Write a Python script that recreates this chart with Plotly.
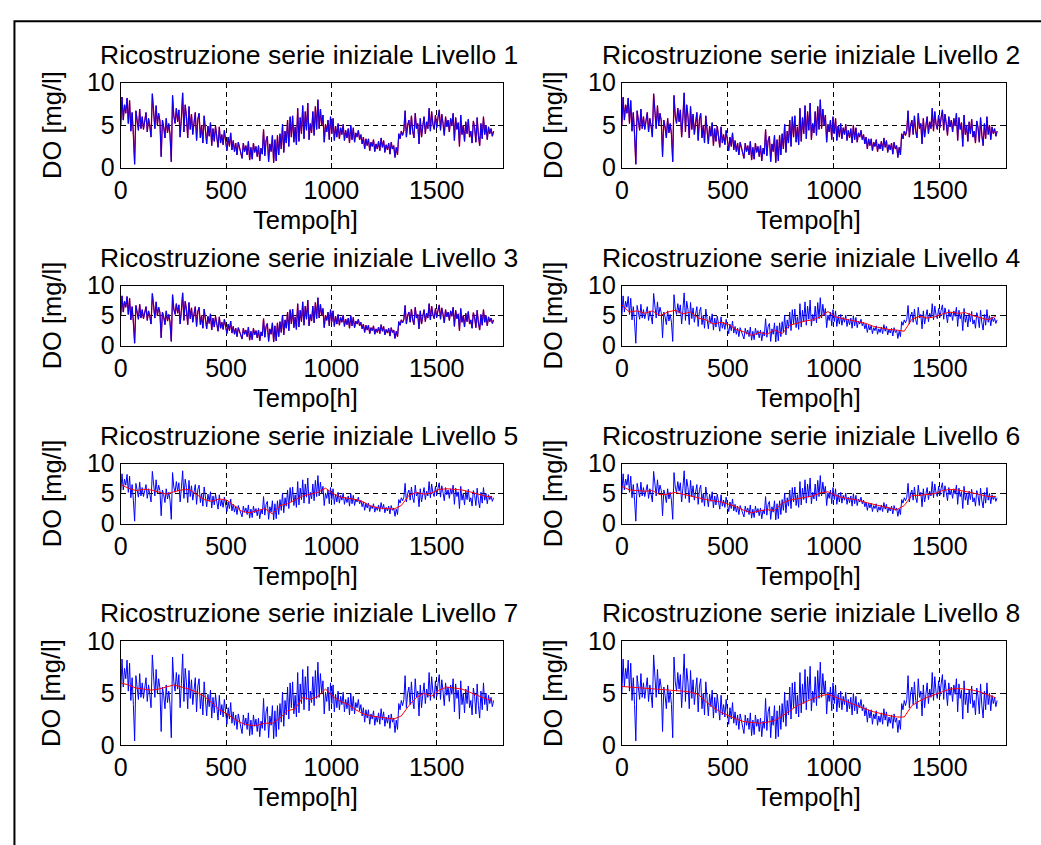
import plotly.graph_objects as go

# ---------------------------------------------------------------------------
# Data
# ---------------------------------------------------------------------------
W, H = 1041, 845
STEP_DO = 6        # hours between samples of the measured series
STEP_APPROX = 36   # hours between samples of the smooth approximations

# Dissolved oxygen measured series [mg/l], four samples per day
do_measured = [
    5.0, 8.3, 5.6, 7.4,  6.4, 8.2, 5.2, 7.9,  4.3, 6.5, 3.9, 0.4,
    6.7, 5.1, 4.4, 6.9,  4.6, 6.0, 4.5, 5.5,  6.5, 4.2, 5.8, 4.9,
    3.6, 8.7, 6.2, 4.6,  7.3, 5.0, 6.4, 5.5,  1.3, 5.6, 4.8, 3.5,
    5.8, 4.1, 5.2, 3.9,  0.7, 8.5, 6.1, 5.2,  7.0, 5.4, 6.8, 3.6,
    5.9, 8.8, 4.2, 7.4,  6.0, 3.5, 7.2, 4.5,  6.3, 3.9, 5.3, 6.5,
    3.2, 5.7, 6.4, 3.5,  5.0, 2.9, 6.1, 4.4,  2.8, 4.9, 3.7, 5.3,
    2.6, 4.6, 3.1, 4.9,  3.4, 2.4, 4.8, 2.9,  3.9, 2.7, 4.4, 3.0,
    2.0, 3.6, 2.5, 4.1,  2.1, 3.2, 1.9, 2.9,  1.5, 3.0, 2.4, 1.8,
    1.1, 2.9, 1.9, 2.6,  1.5, 3.1, 0.9, 2.4,  1.0, 2.9, 1.8, 2.5,
    1.3, 2.6, 0.8, 2.3,  1.6, 4.5, 1.4, 3.2,  3.7, 0.7, 2.8, 1.9,
    3.8, 0.6, 3.3, 0.8,  3.8, 1.5, 4.0, 2.2,  5.1, 1.8, 4.3, 2.9,
    5.6, 2.5, 6.0, 3.6,  6.1, 3.0, 4.8, 2.7,  7.0, 3.1, 5.9, 4.0,
    7.3, 3.4, 6.6, 4.4,  7.6, 3.3, 5.2, 4.1,  6.6, 3.8, 7.2, 4.5,
    8.0, 4.6, 6.9, 5.0,  6.2, 3.0, 5.1, 4.2,  5.6, 3.3, 6.0, 4.0,
    5.8, 3.2, 4.9, 3.6,  5.2, 3.4, 4.7, 3.9,  5.1, 3.2, 4.4, 3.5,
    4.6, 2.9, 5.0, 3.3,  4.7, 3.0, 4.1, 3.6,  4.4, 3.3, 3.9, 2.8,
    3.6, 2.2, 3.4, 2.6,  3.4, 2.0, 3.0, 2.5,  3.3, 1.9, 2.8, 2.2,
    3.1, 2.0, 3.5, 2.4,  3.2, 1.8, 2.7, 2.1,  2.9, 1.6, 3.0, 2.2,
    2.6, 1.2, 2.4, 1.5,  4.0, 3.4, 4.3, 3.8,  4.4, 6.7, 3.6, 5.0,
    5.6, 3.9, 6.1, 4.3,  3.5, 6.4, 4.6, 5.2,  2.8, 5.8, 3.6, 4.9,
    6.0, 4.0, 5.4, 4.6,  7.0, 4.3, 6.6, 5.1,  4.5, 6.2, 4.7, 5.9,
    6.8, 4.4, 6.3, 5.2,  3.8, 6.0, 4.8, 5.6,  4.2, 5.8, 4.9, 6.4,
    3.2, 5.9, 4.5, 5.3,  2.5, 6.2, 3.9, 5.0,  3.1, 5.4, 4.0, 5.7,
    3.6, 4.3, 2.9, 5.5,  4.7, 3.0, 5.9, 3.8,  2.6, 5.2, 3.4, 6.0,
    3.9, 5.0, 3.3, 4.8,  4.0, 4.6, 3.7, 4.3,
]

# Wavelet approximations (levels 4..8), sampled every STEP_APPROX hours
approx_l4 = [
    6.8, 5.6, 5.8, 5.4, 5.8, 5.0, 5.6, 5.9, 5.3, 5.6,
    4.6, 4.3, 3.6, 3.9, 3.5, 2.7, 2.3, 1.7, 2.2, 1.9,
    2.6, 2.0, 3.4, 3.8, 4.1, 4.3, 4.8, 5.7, 4.8, 4.5,
    4.2, 4.0, 3.7, 3.2, 2.9, 2.7, 2.6, 2.4, 4.4, 4.9,
    4.6, 4.8, 5.3, 5.6, 5.4, 5.5, 5.0, 4.7, 4.3, 4.9,
]
approx_l5 = [
    6.5, 5.9, 5.5, 5.7, 5.6, 5.2, 4.9, 5.3, 5.6, 5.7,
    4.9, 4.0, 3.7, 4.1, 3.9, 2.9, 2.0, 1.8, 2.1, 2.5,
    1.6, 3.0, 3.3, 4.0, 4.6, 4.9, 5.2, 5.9, 5.0, 4.4,
    4.2, 4.0, 3.6, 2.9, 2.6, 2.5, 2.4, 3.0, 4.7, 5.2,
    4.9, 5.1, 5.7, 5.8, 5.7, 5.6, 5.3, 4.9, 4.6, 4.4,
]
approx_l6 = [
    6.2, 5.6, 5.5, 5.4, 5.5, 4.8, 4.9, 5.2, 4.9, 4.6,
    4.2, 4.0, 3.8, 3.6, 3.2, 2.8, 2.2, 1.8, 2.1, 2.3,
    2.2, 3.4, 3.9, 4.1, 4.3, 4.6, 5.1, 5.3, 4.7, 4.3,
    4.1, 3.9, 3.5, 3.2, 2.9, 2.6, 2.3, 3.0, 4.7, 4.7,
    4.8, 5.0, 5.5, 5.7, 5.6, 5.4, 5.1, 4.8, 4.5, 4.5,
]
approx_l7 = [
    6.0, 5.8, 5.5, 5.4, 5.3, 5.4, 5.6, 5.8, 5.6, 5.4,
    5.1, 4.7, 4.1, 3.4, 3.0, 2.5, 2.1, 1.9, 1.9, 2.1,
    2.1, 2.6, 3.3, 3.5, 4.6, 4.4, 4.7, 5.4, 4.7, 4.2,
    3.9, 3.4, 3.0, 2.8, 2.7, 2.6, 2.5, 2.8, 3.8, 4.6,
    5.0, 4.7, 5.3, 5.6, 5.5, 5.4, 5.1, 4.8, 4.5, 4.3,
]
approx_l8 = [
    5.65, 5.6, 5.55, 5.5, 5.4, 5.35, 5.3, 5.25, 5.2, 5.1,
    4.9, 4.2, 3.6, 3.15, 2.8, 2.5, 2.25, 2.15, 2.1, 2.2,
    2.35, 2.8, 3.3, 3.8, 4.15, 4.45, 4.75, 4.9, 4.6, 4.3,
    4.0, 3.75, 3.45, 3.2, 3.0, 2.85, 2.7, 2.7, 3.8, 4.25,
    4.6, 4.9, 5.15, 5.4, 5.45, 5.4, 5.3, 5.1, 4.85, 4.55,
]

# At the finest levels the approximation coincides with the measured series
approx_by_level = {
    1: (do_measured, STEP_DO),
    2: (do_measured, STEP_DO),
    3: (do_measured, STEP_DO),
    4: (approx_l4, STEP_APPROX),
    5: (approx_l5, STEP_APPROX),
    6: (approx_l6, STEP_APPROX),
    7: (approx_l7, STEP_APPROX),
    8: (approx_l8, STEP_APPROX),
}

x_ticks = [0, 500, 1000, 1500]
y_ticks = [0, 5, 10]
title_fmt = "Ricostruzione serie iniziale Livello {}"

# ---------------------------------------------------------------------------
# Layout geometry (pixels)
# ---------------------------------------------------------------------------
col_px = [(114.5, 499.0), (619.0, 1006.0)]
row_px = [(71.0, 159.0), (281.0, 343.0), (465.0, 527.0), (649.0, 756.0)]

FONT = "Liberation Sans, Arial, Helvetica, sans-serif"
FS_TICK = 25
FS_LABEL = 25.5
FS_TITLE = 26.5


def px_x(p):
    return p / W


def px_y(p):
    return 1 - p / H


fig = go.Figure()
annotations = []
layout_axes = {}
hours = [i * STEP_DO for i in range(len(do_measured))]

for level in range(1, 9):
    r, c = divmod(level - 1, 2)
    x0, x1 = col_px[c]
    y0, y1 = row_px[r]
    sfx = "" if level == 1 else str(level)

    vals, step = approx_by_level[level]
    hours_a = [i * step for i in range(len(vals))]

    measured = go.Scatter(x=hours, y=do_measured, mode="lines",
                          line=dict(color="#0000ff", width=1),
                          xaxis="x" + sfx, yaxis="y" + sfx, hoverinfo="skip")
    approx = go.Scatter(x=hours_a, y=vals, mode="lines",
                        line=dict(color="#ff0000", width=1 if level > 3 else 1.3),
                        xaxis="x" + sfx, yaxis="y" + sfx, hoverinfo="skip")
    if level <= 3:
        fig.add_trace(approx)
        fig.add_trace(measured)
    else:
        fig.add_trace(measured)
        fig.add_trace(approx)

    common = dict(
        showline=True, linecolor="black", linewidth=1, mirror="ticks",
        ticks="inside", ticklen=5, tickcolor="black", tickwidth=1,
        showgrid=True, gridcolor="black", gridwidth=1, griddash="5px,4px",
        zeroline=False, tickfont=dict(family=FONT, size=FS_TICK, color="black"),
    )
    layout_axes["xaxis" + sfx] = dict(
        common, domain=[px_x(x0), px_x(x1)], range=[0, 1813],
        tickvals=x_ticks, anchor="y" + sfx,
    )
    layout_axes["yaxis" + sfx] = dict(
        common, domain=[px_y(y1), px_y(y0)], range=[0, 10],
        tickvals=y_ticks, anchor="x" + sfx,
    )

    xc = (x0 + x1) / 2
    annotations.append(dict(
        text=title_fmt.format(level), xref="paper", yref="paper",
        x=px_x(xc - 3), y=px_y(y0 - 29), xanchor="center", yanchor="middle",
        showarrow=False, font=dict(family=FONT, size=FS_TITLE, color="black")))
    annotations.append(dict(
        text="DO [mg/l]", xref="paper", yref="paper", textangle=-90,
        x=px_x(x0 - 69.5), y=px_y((y0 + y1) / 2), xanchor="center",
        yanchor="middle", showarrow=False,
        font=dict(family=FONT, size=FS_LABEL, color="black")))
    annotations.append(dict(
        text="Tempo[h]", xref="paper", yref="paper",
        x=px_x(xc - 6), y=px_y(y1 + 54), xanchor="center", yanchor="middle",
        showarrow=False, font=dict(family=FONT, size=FS_LABEL, color="black")))

fig.update_layout(
    width=W, height=H, margin=dict(l=0, r=0, t=0, b=0),
    paper_bgcolor="white", plot_bgcolor="white", showlegend=False,
    annotations=annotations,
    shapes=[dict(type="rect", xref="paper", yref="paper",
                 x0=px_x(7.5), x1=1.05, y0=-0.05, y1=px_y(7.5),
                 line=dict(color="black", width=2))],
    **layout_axes,
)

# The page body keeps no default margin so the figure sits at the window origin
fig.write_html(
    "out.html",
    post_script="document.body.style.margin='0';document.body.style.overflow='hidden';",
)
